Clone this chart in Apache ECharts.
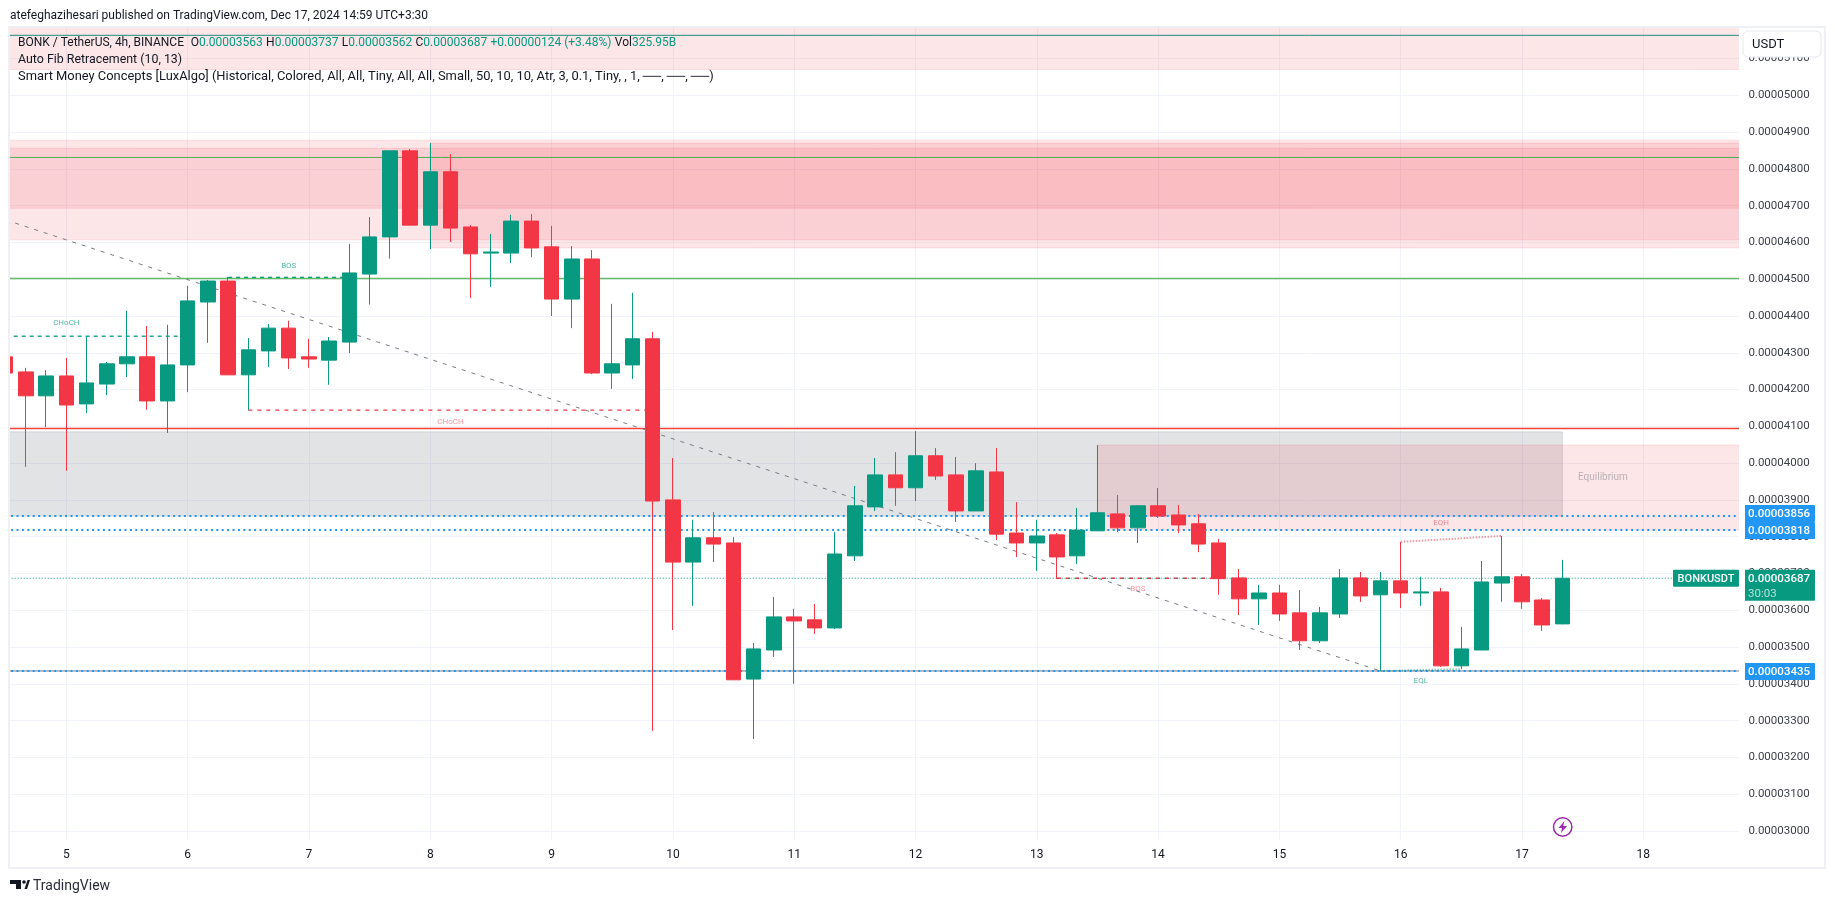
<!DOCTYPE html>
<html><head><meta charset="utf-8">
<style>html,body{margin:0;padding:0;background:#fff}#c{width:1835px;height:903px}</style>
<script src="https://cdn.jsdelivr.net/npm/echarts@6/dist/echarts.min.js"></script>
</head><body><div id="c"></div>
<script>
// Prices are in units of 0.00000001 USDT
const opens =[4289,4248,4183,4237,4161,4215,4270,4289,4169,4267,4438,4495,4240,4305,4367,4289,4280,4329,4514,4615,4849,4647,4792,4642,4571,4571,4658,4588,4446,4555,4245,4267,4338,3900,3731,3797,3783,3413,3492,3582,3574,3552,3748,3881,3968,3933,4020,3968,3870,3976,3810,3783,3805,3748,3816,3862,3824,3884,3859,3835,3783,3688,3631,3647,3593,3517,3590,3688,3642,3680,3647,3650,3449,3492,3674,3691,3628,3563];
const closes=[4245,4183,4237,4158,4218,4270,4289,4169,4267,4441,4495,4240,4308,4367,4286,4283,4332,4517,4615,4849,4647,4792,4639,4569,4574,4658,4585,4446,4555,4245,4270,4338,3897,3731,3797,3780,3411,3495,3582,3571,3552,3753,3884,3968,3933,4020,3965,3870,3979,3807,3783,3802,3745,3818,3865,3824,3884,3856,3832,3780,3686,3631,3647,3590,3517,3593,3688,3639,3680,3647,3650,3449,3495,3677,3691,3623,3560,3687];
const highs =[4289,4259,4253,4286,4345,4275,4414,4373,4376,4482,4498,4506,4340,4378,4387,4338,4343,4596,4669,4850,4854,4870,4840,4647,4623,4675,4677,4645,4590,4579,4433,4463,4357,4014,3846,3867,3799,3511,3636,3604,3617,3813,3938,4014,4030,4087,4041,4017,4000,4041,3894,3846,3810,3878,4049,3913,3886,3932,3886,3862,3794,3712,3669,3669,3655,3609,3712,3704,3704,3786,3691,3661,3555,3734,3802,3699,3633,3737];
const lows  =[4245,3990,4098,3979,4136,4185,4234,4145,4082,4193,4327,4240,4144,4261,4256,4259,4213,4299,4431,4556,4647,4582,4601,4449,4479,4544,4560,4400,4367,4242,4202,4229,3272,3546,3612,3731,3411,3250,3473,3400,3536,3549,3734,3870,3884,3897,3954,3840,3870,3791,3745,3707,3685,3726,3816,3813,3783,3851,3810,3758,3642,3587,3560,3571,3492,3511,3579,3623,3435,3606,3612,3446,3440,3492,3623,3604,3544,3562];

const dayLabels=['5','6','7','8','9','10','11','12','13','14','15','16','17','18'];
const firstDayIndex=3, barsPerDay=6, categoryCount=87;
const yTicks=[3000,3100,3200,3300,3400,3500,3600,3700,3800,3900,4000,4100,4200,4300,4400,4500,4600,4700,4800,4900,5000,5100];
const yMin=2975.5, yMax=5185.6;

// Zones: start bar, end bar, upper price, lower price
const redZoneStart=[0,0,0,21,54], redZoneEnd=[86,86,86,86,86];
const redZoneHigh=[5186,4878,4856,4870,4049], redZoneLow=[5070,4607,4693,4585,3818];
const greyZoneStart=[0], greyZoneEnd=[77], greyZoneHigh=[4085], greyZoneLow=[3856];
// Horizontal levels
const levelPrices=[5163,4831,4502,4094];
const bluePrices=[3856,3818,3435];
const lastPrice=3687, openStat='0.00003563', highStat='0.00003737', lowStat='0.00003562', closeStat='0.00003687';
// Structure segments: start bar, end bar, start price, end price
const trendStart=[0,68], trendPrice=[4661,3435];
const greenDashStart=[11,0], greenDashEnd=[17,9], greenDashPrice=[4505,4345];
const redDashStart=[12,52], redDashEnd=[32,60], redDashPrice=[4144,3687];
const eqhBars=[69,74], eqhPrices=[3786,3802];
const eqlBars=[68,72], eqlPrices=[3435,3440];
// Structure labels
const greenLabelText=['BOS','CHoCH','EQL'], greenLabelBar=[14,3,70], greenLabelPrice=[4537,4380,3409];
const redLabelText=['CHoCH','BOS','EQH'], redLabelBar=[22,56,71], redLabelPrice=[4111,3657,3837];
const zoneLabelText=['Equilibrium'], zoneLabelBar=[78.8], zoneLabelPrice=[3960];
// Price tags on the scale
const tagPrices=[3856,3818,3435];
const countdown='30:03', symbolTag='BONKUSDT';

const GREEN='#089981', RED='#f23645', BLUE='#2196f3', GRID='#f0f3fa', TEXT='#131722', AXIS='#3c3f48';
const FONT='Roboto, sans-serif';
const fmt=v=>(v*1e-8).toFixed(8);
const categories=Array.from({length:categoryCount},(_,i)=>{
  const d=(i-firstDayIndex)/barsPerDay;
  return Number.isInteger(d)&&d>=0?dayLabels[d]:'';
});
const isDay=i=>(i-firstDayIndex)%barsPerDay===0 && i>=firstDayIndex;

const chart=echarts.init(document.getElementById('c'),null,{renderer:'canvas'});

function zoneSeries(name,s,e,h,l,fill,z){
  return {name,type:'custom',coordinateSystem:'cartesian2d',z,silent:true,clip:false,
    data:s.map((v,i)=>[v,e[i],h[i],l[i]]),encode:{x:[0,1],y:[2,3]},
    renderItem(p,api){
      const a=api.coord([api.value(0),api.value(2)]),b=api.coord([api.value(1),api.value(3)]);
      return {type:'rect',shape:{x:a[0],y:a[1],width:b[0]-a[0],height:b[1]-a[1]},
        style:{fill,stroke:fill,lineWidth:1}};
    }};
}
function segSeries(name,rows,style,z){
  return {name,type:'custom',coordinateSystem:'cartesian2d',z:z||1,silent:true,clip:false,
    data:rows,encode:{x:[0,1],y:[2,3]},
    renderItem(p,api){
      const a=api.coord([api.value(0),api.value(2)]),b=api.coord([api.value(1),api.value(3)]);
      return {type:'line',shape:{x1:a[0],y1:a[1],x2:b[0],y2:b[1]},style:Object.assign({fill:null},style)};
    }};
}
function labelSeries(name,txt,bars,prices,fill,font){
  return {name,type:'custom',coordinateSystem:'cartesian2d',z:4,silent:true,clip:false,
    data:bars.map((b,i)=>[b,prices[i]]),encode:{x:0,y:1},
    renderItem(p,api){
      const a=api.coord([api.value(0),api.value(1)]);
      return {type:'text',style:{text:txt[p.dataIndex],x:a[0],y:a[1],fill,font,align:'center',verticalAlign:'middle'}};
    }};
}
const tagNudge=[-2.5,0.5,0.5];
const series=[
  zoneSeries('Grey zone',greyZoneStart,greyZoneEnd,greyZoneHigh,greyZoneLow,'rgba(120,123,134,0.21)',1),
  zoneSeries('Red zones',redZoneStart,redZoneEnd,redZoneHigh,redZoneLow,'rgba(242,54,69,0.125)',1),
  segSeries('Top level',[[0,86,levelPrices[0],levelPrices[0]]],{stroke:'#1f8f7c',lineWidth:1}),
  segSeries('Fib level',[[0,86,levelPrices[1],levelPrices[1]]],{stroke:'#4caf50',lineWidth:1}),
  segSeries('Fib level 2',[[0,86,levelPrices[2],levelPrices[2]]],{stroke:'#66bb6a',lineWidth:1.4}),
  segSeries('Red level',[[0,86,levelPrices[3],levelPrices[3]]],{stroke:'#f44336',lineWidth:1.5}),
  segSeries('Base level',[[0,86,bluePrices[2],bluePrices[2]]],{stroke:'#787b86',lineWidth:1}),
  segSeries('Blue levels',bluePrices.map(v=>[0,86,v,v]),{stroke:BLUE,lineWidth:2,lineDash:[2,3.4]}),
  segSeries('Trend',[[trendStart[0],trendStart[1],trendPrice[0],trendPrice[1]]],{stroke:'#787b86',lineWidth:1,lineDash:[4,6]}),
  segSeries('Green structure',greenDashStart.map((v,i)=>[v,greenDashEnd[i],greenDashPrice[i],greenDashPrice[i]]),{stroke:GREEN,lineWidth:1.3,lineDash:[4,4]}),
  segSeries('Red structure',redDashStart.map((v,i)=>[v,redDashEnd[i],redDashPrice[i],redDashPrice[i]]),{stroke:RED,lineWidth:1.3,lineDash:[4,5]}),
  segSeries('Last price',[[0,86,lastPrice,lastPrice]],{stroke:GREEN,lineWidth:1,lineDash:[1,2]}),
  segSeries('EQH',[[eqhBars[0],eqhBars[1],eqhPrices[0],eqhPrices[1]]],{stroke:'rgba(242,54,69,0.5)',lineWidth:2,lineDash:[1.5,1.5]}),
  segSeries('EQL',[[eqlBars[0],eqlBars[1],eqlPrices[0],eqlPrices[1]]],{stroke:'rgba(8,153,129,0.5)',lineWidth:2,lineDash:[1.5,1.5]}),
  {name:'BONKUSDT',type:'candlestick',z:2,barWidth:15,clip:true,silent:true,
    data:opens.map((o,i)=>[o,closes[i],lows[i],highs[i]]),
    itemStyle:{color:GREEN,color0:RED,borderColor:GREEN,borderColor0:RED,borderWidth:1}},
  labelSeries('Green labels',greenLabelText,greenLabelBar,greenLabelPrice,'rgba(8,153,129,0.7)','8px '+FONT),
  labelSeries('Red labels',redLabelText,redLabelBar,redLabelPrice,'rgba(242,54,69,0.55)','8px '+FONT),
  labelSeries('Zone labels',zoneLabelText,zoneLabelBar,zoneLabelPrice,'rgba(120,123,134,0.5)','10px '+FONT),
  {name:'Price tags',type:'custom',coordinateSystem:'cartesian2d',z:20,silent:true,clip:false,
    data:tagPrices.map(v=>[86,v]),encode:{x:0,y:1},
    renderItem(p,api){
      const y=api.coord([0,api.value(1)])[1]+tagNudge[p.dataIndex];
      return {type:'group',children:[
        {type:'rect',shape:{x:1740,y:y-8.5,width:75,height:17,r:1},style:{fill:BLUE}},
        {type:'text',style:{text:fmt(api.value(1)),x:1748,y:y+1,fill:'#fff',font:'500 11.5px '+FONT,verticalAlign:'middle'}}
      ]};
    }},
  {name:'Last price tag',type:'custom',coordinateSystem:'cartesian2d',z:20,silent:true,clip:false,
    data:[[86,lastPrice]],encode:{x:0,y:1},
    renderItem(p,api){
      const y=api.coord([0,api.value(1)])[1];
      return {type:'group',children:[
        {type:'rect',shape:{x:1740,y:y-8.5,width:75,height:31,r:1},style:{fill:GREEN}},
        {type:'text',style:{text:fmt(api.value(1)),x:1748,y:y+1,fill:'#fff',font:'500 11.5px '+FONT,verticalAlign:'middle'}},
        {type:'text',style:{text:countdown,x:1748,y:y+15.5,fill:'rgba(255,255,255,0.7)',font:'11.5px '+FONT,verticalAlign:'middle'}},
        {type:'rect',shape:{x:1673,y:y-8.5,width:66,height:17,r:1},style:{fill:GREEN}},
        {type:'text',style:{text:symbolTag,x:1706,y:y+1,fill:'#fff',font:'500 11px '+FONT,align:'center',verticalAlign:'middle'}}
      ]};
    }}
];

const legendLine1='{d|BONK / TetherUS, 4h, BINANCE}  {d|O}{g|'+openStat+'} {d|H}{g|'+highStat+'} {d|L}{g|'+lowStat+'} {d|C}{g|'+closeStat+'} {g|+0.00000124 (+3.48%)} {d|Vol}{g|325.95B}';
const rich={d:{fill:TEXT,font:'12px '+FONT},g:{fill:GREEN,font:'12px '+FONT}};

chart.setOption({
  animation:false,backgroundColor:'#fff',
  grid:{left:5.7,right:90.6,top:27,bottom:63,containLabel:false},
  xAxis:{type:'category',data:categories,boundaryGap:false,
    axisLine:{show:false},axisTick:{show:false},
    axisLabel:{interval:(i)=>isDay(i),margin:9,color:TEXT,fontFamily:FONT,fontSize:12,hideOverlap:false},
    splitLine:{show:true,interval:(i)=>isDay(i),lineStyle:{color:GRID,width:1}}},
  yAxis:{type:'value',position:'right',min:yMin,max:yMax,scale:true,
    axisLine:{show:false},
    axisTick:{show:false,customValues:yTicks},
    axisLabel:{customValues:yTicks,formatter:fmt,margin:4,color:AXIS,fontFamily:FONT,fontSize:11.5,align:'left',padding:[2,0,0,0],showMinLabel:true,showMaxLabel:true,hideOverlap:false},
    splitLine:{show:true,lineStyle:{color:GRID,width:1}}},
  series,
  graphic:[
    // page furniture: margins, frame, header, legend, footer
    {type:'rect',z:50,silent:true,shape:{x:0,y:20,width:9,height:830},style:{fill:'#fff'}},
    {type:'rect',z:50,silent:true,shape:{x:1739,y:27,width:6,height:813},style:{fill:'#fff'}},
    {type:'rect',z:51,silent:true,shape:{x:9,y:27,width:1816,height:841},style:{fill:null,stroke:'#eff0f5',lineWidth:2}},
    {type:'text',z:52,silent:true,style:{text:'atefeghazihesari published on TradingView.com, Dec 17, 2024 14:59 UTC+3:30',x:10,y:16,fill:TEXT,font:'12px '+FONT,verticalAlign:'middle'}},
    {type:'text',z:52,silent:true,style:{x:18,y:43,verticalAlign:'middle',text:legendLine1,rich}},
    {type:'text',z:52,silent:true,style:{text:'Auto Fib Retracement (10, 13)',x:18,y:60,fill:TEXT,font:'12.4px '+FONT,verticalAlign:'middle'}},
    {type:'text',z:52,silent:true,style:{text:'Smart Money Concepts [LuxAlgo] (Historical, Colored, All, All, Tiny, All, All, Small, 50, 10, 10, Atr, 3, 0.1, Tiny, , 1, ──, ──, ──)',x:18,y:77,fill:TEXT,font:'12.9px '+FONT,verticalAlign:'middle'}},
    {type:'rect',z:52,silent:true,shape:{x:1743,y:31,width:78,height:26,r:5},style:{fill:'#fff',stroke:'#e6e8ef',lineWidth:1}},
    {type:'text',z:53,silent:true,style:{text:'USDT',x:1752,y:45,fill:TEXT,font:'13px '+FONT,verticalAlign:'middle'}},
    {type:'text',z:52,silent:true,style:{text:'TradingView',x:33,y:886,fill:'#2a2e39',font:'14px '+FONT,verticalAlign:'middle'}},
    {type:'polygon',z:52,silent:true,shape:{points:[[10,880],[21,880],[21,889],[16,889],[16,884],[10,884]]},style:{fill:'#131722'}},
    {type:'polygon',z:52,silent:true,shape:{points:[[24.5,889],[27.5,880],[30,880],[27,889]]},style:{fill:'#131722'}},
    {type:'circle',z:52,silent:true,shape:{cx:24,cy:882,r:1.8},style:{fill:'#131722'}},
    {type:'circle',z:52,silent:true,shape:{cx:1562.7,cy:827,r:9.2},style:{fill:'#fff',stroke:'#9c27b0',lineWidth:1.5}},
    {type:'polygon',z:53,silent:true,shape:{points:[[1564.5,821],[1558.5,828],[1562,828],[1561,833],[1567,826],[1563.2,826]]},style:{fill:'#9c27b0'}}
  ]
});
</script></body></html>
